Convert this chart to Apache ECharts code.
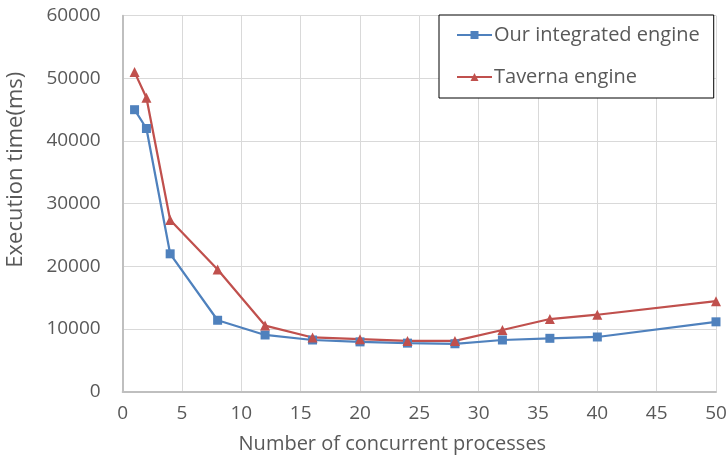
<!DOCTYPE html>
<html><head><meta charset="utf-8">
<script src="https://cdn.jsdelivr.net/npm/echarts@6/dist/echarts.min.js"></script>
<style>html,body{margin:0;padding:0;background:#fff}#c{width:727px;height:468px}</style>
</head><body><div id="c"></div>
<script>
const processes = [1, 2, 4, 8, 12, 16, 20, 24, 28, 32, 36, 40, 50];
const ourEngine = [45000, 42000, 22000, 11400, 9050, 8250, 7950, 7750, 7650, 8250, 8520, 8730, 11150];
const taverna = [51000, 46900, 27400, 19500, 10550, 8650, 8380, 8100, 8100, 9850, 11600, 12280, 14450];
const seriesNames = ['Our integrated engine', 'Taverna engine'];
const xTitle = 'Number of concurrent processes';
const yTitle = 'Execution time(ms)';

const FONT = 'Open Sans';
const TXT = '#595959';
const chart = echarts.init(document.getElementById('c'));
chart.setOption({
  animation: false,
  textStyle: {fontFamily: FONT},
  grid: {left: 122.7, right: 11, top: 15.7, bottom: 76.3, containLabel: false, outerBoundsMode: 'none'},
  legend: {
    orient: 'vertical', left: 439, top: 15,
    backgroundColor: '#fff', borderColor: '#000', borderWidth: 1,
    padding: [10, 14, 11, 17],
    itemWidth: 35, itemHeight: 10, itemGap: 22,
    textStyle: {fontSize: 20, color: TXT, fontFamily: FONT, padding: [0,0,0,-3]},
    data: seriesNames
  },
  xAxis: {
    type: 'value', min: 0, max: 50, interval: 5,
    name: xTitle, nameLocation: 'middle', nameGap: 43,
    nameTextStyle: {fontSize: 20, color: TXT, padding: [0, 54, 0, 0]},
    axisLine: {show: true, lineStyle: {color: '#bfbfbf', width: 2}},
    axisTick: {show: false},
    axisLabel: {fontSize: 19, color: TXT, margin: 12},
    splitLine: {show: true, lineStyle: {color: '#d9d9d9', width: 1}}
  },
  yAxis: {
    type: 'value', min: 0, max: 60000, interval: 10000,
    name: yTitle, nameLocation: 'middle', nameGap: 96,
    nameTextStyle: {fontSize: 22, color: TXT, padding: [0, 0, 0, 68]},
    axisLine: {show: true, lineStyle: {color: '#bfbfbf', width: 2}},
    axisTick: {show: false},
    axisLabel: {fontSize: 19, color: TXT, margin: 22, formatter: v => String(v)},
    splitLine: {show: true, lineStyle: {color: '#d9d9d9', width: 1}}
  },
  series: [
    {name: seriesNames[0], type: 'line', data: processes.map((x, i) => [x, ourEngine[i]]),
     symbol: 'rect', symbolSize: 9, color: '#4F81BD',
     lineStyle: {width: 2.25, color: '#4F81BD'}, itemStyle: {color: '#4F81BD'}},
    {name: seriesNames[1], type: 'line', data: processes.map((x, i) => [x, taverna[i]]),
     symbol: 'triangle', symbolSize: 10, color: '#C0504D',
     lineStyle: {width: 2.25, color: '#C0504D'}, itemStyle: {color: '#C0504D'}}
  ]
});
</script></body></html>
